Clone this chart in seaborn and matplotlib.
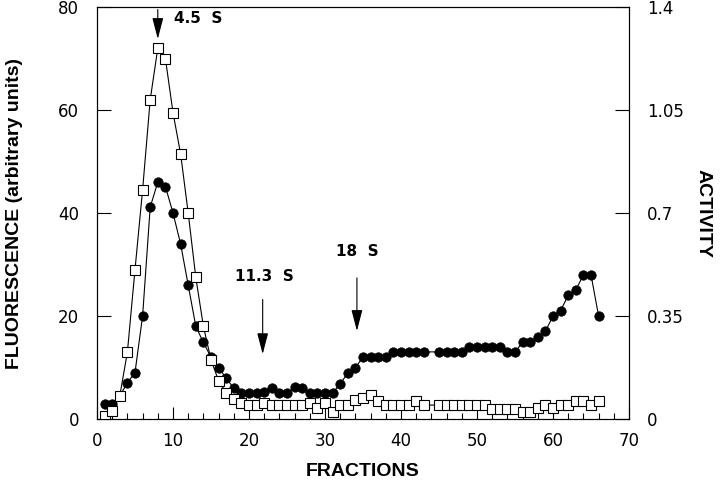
import matplotlib
matplotlib.use("Agg")
import matplotlib.pyplot as plt
import seaborn as sns
import numpy as np
import pandas as pd
from matplotlib.ticker import MultipleLocator

# ---------------- data ----------------
fractions = [f for f in range(1, 67) if f != 44]

fluorescence = [0.6, 1.6, 4.5, 13, 29, 44.5, 62, 72, 70, 59.5,
                51.5, 40, 27.5, 18, 11.5, 7.4, 5.1, 3.8, 3.2, 2.7,
                2.7, 3.2, 2.7, 2.7, 2.7, 2.7, 2.7, 3.2, 2.1, 3.2,
                1.4, 2.7, 2.7, 3.6, 4.1, 4.6, 3.5, 2.7, 2.7, 2.7,
                2.7, 3.4, 2.7,
                2.7, 2.7, 2.7, 2.7, 2.7, 2.7, 2.7, 2.0, 2.0, 2.0,
                2.0, 1.4, 1.4, 2.1, 2.7, 2.1, 2.7, 2.7, 3.4, 3.4,
                2.7, 3.4]

activity = [0.052, 0.052, 0.079, 0.123, 0.158, 0.35, 0.72, 0.805, 0.79, 0.70,
            0.595, 0.455, 0.315, 0.26, 0.21, 0.175, 0.138, 0.105, 0.088, 0.088,
            0.088, 0.091, 0.105, 0.088, 0.088, 0.108, 0.105, 0.088, 0.088, 0.088,
            0.088, 0.12, 0.156, 0.175, 0.21, 0.21, 0.21, 0.21, 0.228, 0.228,
            0.228, 0.228, 0.228,
            0.228, 0.228, 0.228, 0.228, 0.245, 0.245, 0.245, 0.245, 0.245, 0.226,
            0.226, 0.262, 0.262, 0.28, 0.298, 0.35, 0.368, 0.42, 0.438, 0.49,
            0.49, 0.35]

left_ticks = [0, 20, 40, 60, 80]
right_ticks = [0, 0.35, 0.7, 1.05, 1.4]
right_labels = ["0", "0.35", "0.7", "1.05", "1.4"]
x_ticks = [0, 10, 20, 30, 40, 50, 60, 70]

# (label, arrow x, arrow tail y, arrow tip y, text x, text y, ha) in fluorescence units
markers_s = [("4.5  S", 8.0, 79.5, 73.8, 10.1, 77.8, "left"),
             ("11.3  S", 21.8, 23.2, 12.6, 22.0, 27.6, "center"),
             ("18  S", 34.2, 27.4, 17.1, 34.3, 32.6, "center")]

df_f = pd.DataFrame({"fraction": fractions, "fluorescence": fluorescence})
df_a = pd.DataFrame({"fraction": fractions, "activity": activity})

# ---------------- figure ----------------
sns.set_theme(style="ticks")
plt.rcParams['font.family'] = ['DejaVu Sans']
for k in ("text.color", "axes.labelcolor", "xtick.color", "ytick.color", "axes.edgecolor"):
    plt.rcParams[k] = "black"

fig = plt.figure(figsize=(7.2, 4.83), dpi=100)
ax = fig.add_axes([97 / 720, 1 - 419 / 483, 532 / 720, 412 / 483])
ax2 = ax.twinx()

sns.lineplot(data=df_a, x="fraction", y="activity", ax=ax2, color="black",
             linewidth=0.8, marker="o", markersize=6.8, markerfacecolor="black",
             markeredgecolor="black", markeredgewidth=0.5, sort=True)
sns.lineplot(data=df_f, x="fraction", y="fluorescence", ax=ax, color="black",
             linewidth=0.8, marker="s", markersize=6.6, markerfacecolor="white",
             markeredgecolor="black", markeredgewidth=0.8, sort=True)

ax.set_zorder(ax2.get_zorder() + 1)
ax.patch.set_visible(False)

ax.set_xlim(0, 70)
ax.set_ylim(0, 80)
ax2.set_ylim(0, 1.4)

ax.set_xticks(x_ticks)
ax.xaxis.set_minor_locator(MultipleLocator(2))
ax.set_yticks(left_ticks)
ax2.set_yticks(right_ticks)
ax2.set_yticklabels(right_labels)

ax.tick_params(axis="x", which="major", direction="in", length=9, width=0.8,
               labelsize=12, pad=9, top=False)
ax.tick_params(axis="x", which="minor", direction="in", length=4.5, width=0.8, top=False)
ax.tick_params(axis="y", which="major", direction="in", length=10, width=0.8,
               labelsize=12, pad=13)
ax2.tick_params(axis="y", which="major", direction="in", length=10, width=0.8,
                labelsize=12, pad=13)

for a in (ax, ax2):
    for sp in a.spines.values():
        sp.set_linewidth(0.8)
        sp.set_color("black")
        sp.set_visible(True)

lab_font = dict(fontsize=14, fontweight="bold", family=["Liberation Sans", "DejaVu Sans"])
ax.set_xlabel("FRACTIONS", **lab_font)
ax.set_ylabel("FLUORESCENCE (arbitrary units)", **lab_font)
ax2.set_ylabel("ACTIVITY", rotation=270, **lab_font)
ax.xaxis.set_label_coords(0.5, -0.108)
ax.yaxis.set_label_coords(-0.139, 0.5)
ax2.yaxis.set_label_coords(1.155, 0.5)

for label, xa, y0, y1, tx, ty, ha in markers_s:
    ax.annotate("", xy=(xa, y1), xytext=(xa, y0),
                arrowprops=dict(arrowstyle="-|>,head_length=1.3,head_width=0.34",
                                color="black", lw=0.8, shrinkA=0, shrinkB=0,
                                mutation_scale=10))
    ax.text(tx, ty, label, ha=ha, va="center", fontsize=11, fontweight="bold")

fig.savefig("out.png", dpi=100)
